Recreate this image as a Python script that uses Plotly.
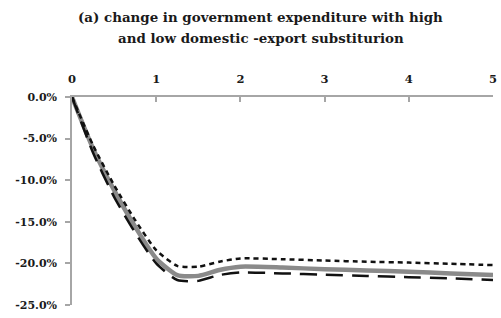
import plotly.graph_objects as go

# years after shock
years = [0, 0.25, 0.5, 0.75, 1.0, 1.25, 1.5, 1.75, 2.0, 2.5, 3.0, 3.5, 4.0, 4.5, 5.0]
# % change in government expenditure
baseline = [0, -6.2, -11.2, -15.6, -19.4, -21.4, -21.5, -20.8, -20.4, -20.5, -20.7, -20.85, -21.0, -21.2, -21.4]
high_sub = [0, -5.8, -10.6, -14.8, -18.4, -20.3, -20.4, -19.8, -19.4, -19.5, -19.65, -19.8, -19.9, -20.05, -20.2]
low_sub = [0, -6.7, -12.0, -16.3, -20.0, -22.0, -22.1, -21.4, -21.1, -21.2, -21.35, -21.5, -21.65, -21.8, -22.0]

x_ticks = [0, 1, 2, 3, 4, 5]
y_ticks = [0, -5, -10, -15, -20, -25]
y_ticktext = ["0.0%", "-5.0%", "-10.0%", "-15.0%", "-20.0%", "-25.0%"]

title_lines = ["(a) change in government expenditure with high",
               "and low domestic -export substiturion"]

FONT = "DejaVu Serif"
W, H = 501, 318
ML, MR, MT, MB = 72, 4, 97, 13
PH = H - MT - MB
PW = W - ML - MR

fig = go.Figure()
fig.add_trace(go.Scatter(x=years, y=baseline, mode="lines",
                         line=dict(color="#8a8a8a", width=4.5, shape="spline", smoothing=0.6),
                         showlegend=False))
fig.add_trace(go.Scatter(x=years, y=high_sub, mode="lines",
                         line=dict(color="#111111", width=2.5, dash="5px,4px", shape="spline", smoothing=0.6),
                         showlegend=False))
fig.add_trace(go.Scatter(x=years, y=low_sub, mode="lines",
                         line=dict(color="#111111", width=2.5, dash="17px,9px", shape="spline", smoothing=0.6),
                         showlegend=False))

for txt, py in zip(title_lines, [17, 38]):
    fig.add_annotation(text=txt, xref="paper", yref="paper",
                       x=(262.5 - ML) / PW, y=(H - MB - py) / PH,
                       xanchor="center", yanchor="middle", showarrow=False,
                       font=dict(family=FONT, size=13.4, color="#1a1a1a", weight="bold"))

fig.update_layout(
    width=W, height=H,
    margin=dict(l=ML, r=MR, t=MT, b=MB),
    paper_bgcolor="white", plot_bgcolor="white",
    font=dict(family=FONT, size=11, color="#1a1a1a"),
)
fig.update_xaxes(range=[0, 5], side="top", tickvals=x_ticks, ticks="inside", ticklen=5,
                 tickcolor="#a6a6a6", tickwidth=1.5, showline=True, linecolor="#a6a6a6",
                 linewidth=1.5, showgrid=False, zeroline=False,
                 tickfont=dict(family=FONT, size=11.5, color="#1a1a1a", weight="bold"),
                 ticklabelstandoff=8, ticklabeloverflow="allow")
fig.update_yaxes(range=[-25, 0], tickvals=y_ticks, ticktext=y_ticktext, ticks="outside", ticklen=5,
                 tickcolor="#a6a6a6", tickwidth=1.5, showline=True, linecolor="#a6a6a6",
                 linewidth=1.5, showgrid=False, zeroline=False,
                 tickfont=dict(family=FONT, size=11, color="#1a1a1a", weight="bold"),
                 ticklabelstandoff=6, ticklabeloverflow="allow")

fig.write_html("out.html", config={"displayModeBar": False},
               post_script="document.body.style.margin='0';document.body.style.overflow='hidden';")
